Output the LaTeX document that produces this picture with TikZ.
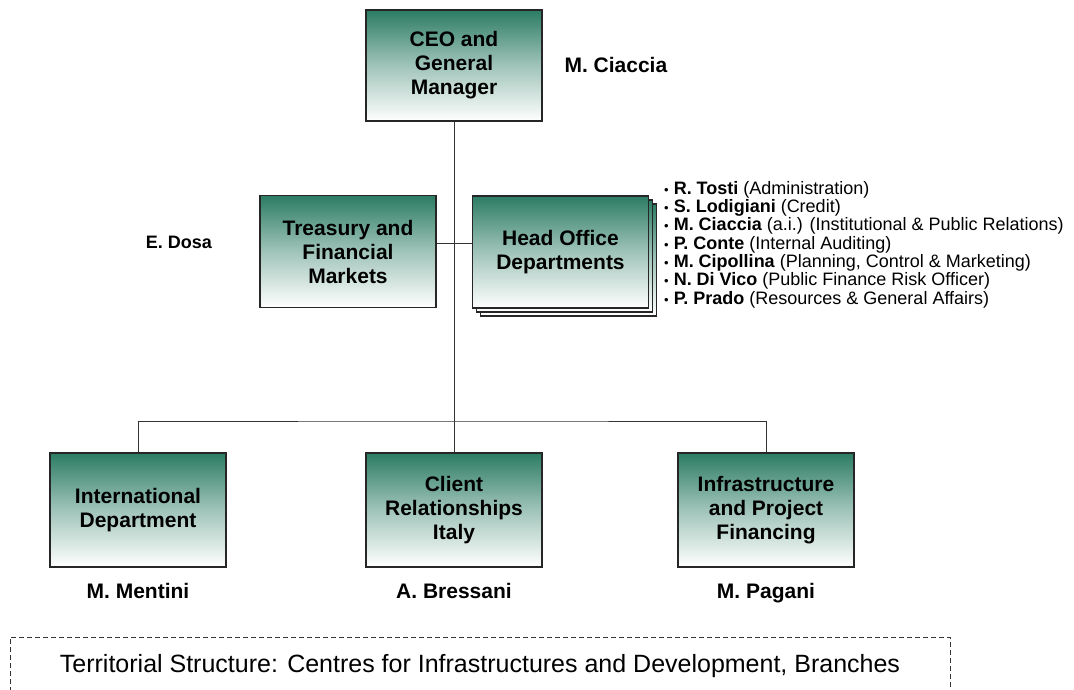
\documentclass[tikz,border=0pt]{standalone}
\usepackage{fontspec}
\setmainfont{Liberation Sans}
\usetikzlibrary{positioning}

\definecolor{boxteal}{RGB}{44,124,100}
\newcommand{\deptline}[2]{{\fontsize{13}{13}\selectfont\textbullet}~\textbf{#1} (#2)}

\tikzset{
	unit/.style={draw=black!85, line width=1.3pt, top color=boxteal, bottom color=white,
		middle color=boxteal!45!white,
		minimum width=176pt, minimum height=112pt, align=center, inner sep=2pt,
		font=\bfseries\fontsize{21}{24}\selectfont},
	head/.style={anchor=base, font=\bfseries\fontsize{21}{24}\selectfont},
	link/.style={draw=black!80, line width=1pt}
}

\begin{document}
\begin{tikzpicture}[x=1pt, y=-1pt]
		\useasboundingbox (0,0) rectangle (1074,690);
		% top
		\node[unit, minimum height=111pt] (ceo) at (454,65.5) {CEO and\\General\\Manager};
		\node[head, anchor=base west] (ceoname) at (561,73) {M. Ciaccia};
		% staff level
		\node[unit] (treasury) at (348,251.5) {Treasury and\\Financial\\Markets};
		\node[head, font=\bfseries\fontsize{18}{22}\selectfont] (dosa) at (179,248.5) {E. Dosa};
		\node[unit] (hodC) at (568.5,260) {};
		\node[unit] (hodB) at (564.5,256) {};
		\node[unit] (hod) at (560.5,252) {Head Office\\Departments};
		\node[anchor=north west, align=left, inner sep=0pt, font=\fontsize{18}{18.3}\selectfont] (depts) at (664,181)
			{\deptline{R. Tosti}{Administration}\\
			 \deptline{S. Lodigiani}{Credit}\\
			 \deptline{M. Ciaccia}{a.i.) (Institutional \& Public Relations}\\
			 \deptline{P. Conte}{Internal Auditing}\\
			 \deptline{M. Cipollina}{Planning, Control \& Marketing}\\
			 \deptline{N. Di Vico}{Public Finance Risk Officer}\\
			 \deptline{P. Prado}{Resources \& General Affairs}};
		% line units
		\node[unit, minimum height=114pt] (intl) at (138,510) {International\\Department};
		\node[unit, minimum height=114pt] (client) at (454,510) {Client\\Relationships\\Italy};
		\node[unit, minimum height=114pt] (infra) at (766,510) {Infrastructure\\and Project\\Financing};
		\node[head] (intlname) at (138,598) {M. Mentini};
		\node[head] (clientname) at (454,598) {A. Bressani};
		\node[head] (infraname) at (766,598) {M. Pagani};
		% connectors
		\coordinate (bus) at (454,421);
		\draw[link] (ceo.south) -- (client.north);
		\draw[link] (intl.north) |- (bus) -| (infra.north);
		\draw[link] ([yshift=8pt]treasury.east) -- ([yshift=8pt]treasury.east -| hod.west);
		% territorial structure
		\draw[draw=black!80, line width=1pt, dash pattern=on 5pt off 3pt] (10,692) -- (10,637) -- (950,637) -- (950,692);
		\node[anchor=base, font=\fontsize{25}{30}\selectfont] (terr) at (480,672)
			{Territorial Structure: Centres for Infrastructures and Development, Branches};
\end{tikzpicture}
\end{document}
